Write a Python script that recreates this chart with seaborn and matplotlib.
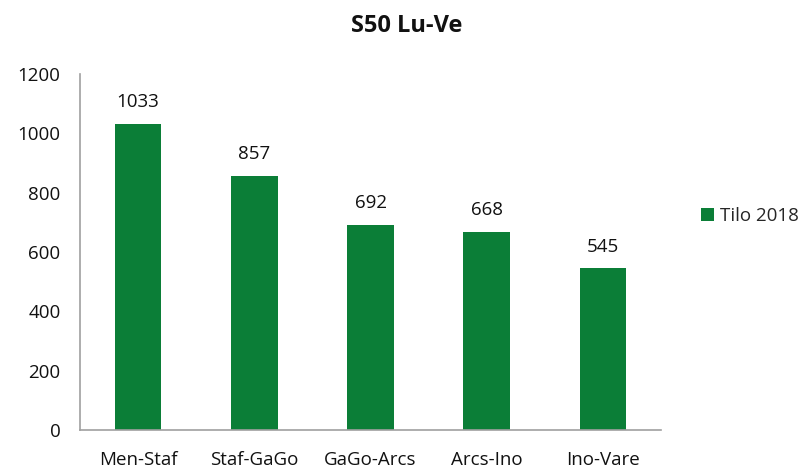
import pandas as pd
import matplotlib.pyplot as plt
import seaborn as sns

# chart data
categories = ["Men-Staf", "Staf-GaGo", "GaGo-Arcs", "Arcs-Ino", "Ino-Vare"]
values = [1033, 857, 692, 668, 545]
series_name = "Tilo 2018"
yticks = [0, 200, 400, 600, 800, 1000, 1200]

df = pd.DataFrame({"Tratta": categories, "Valore": values, "Serie": series_name})

sns.set_style("white")
plt.rcParams["font.family"] = ["Open Sans", "DejaVu Sans"]

fig = plt.figure(figsize=(8.06, 4.69), dpi=100)
ax = fig.add_axes([80 / 806, 1 - 430 / 469, 581 / 806, 356 / 469])

green = "#0b7e37"
sns.barplot(data=df, x="Tratta", y="Valore", hue="Serie", palette=[green],
            width=0.4, ax=ax, saturation=1, linewidth=0)

fs = 13.5
for cont in ax.containers:
    ax.bar_label(cont, fmt="%d", padding=9, fontsize=fs, color="#111111")

ax.set_ylim(0, 1200)
ax.set_yticks(yticks)
ax.set_xlim(-0.5, len(categories) - 0.5)
ax.set_xlabel("")
ax.set_ylabel("")
ax.tick_params(axis="both", labelsize=fs, colors="#111111")

# x ticks between categories
ax.set_xticks([i for i in range(len(categories))])
ax.set_xticklabels(categories)
ax.tick_params(axis="x", length=0, pad=15)
ax.set_xticks([i - 0.5 for i in range(len(categories) + 1)], minor=True)
ax.tick_params(axis="x", which="minor", length=6, color="#a0a0a0", width=1.2)
ax.tick_params(axis="y", length=6, color="#a0a0a0", width=1.2, pad=8)

for side in ["top", "right"]:
    ax.spines[side].set_visible(False)
for side in ["left", "bottom"]:
    ax.spines[side].set_color("#a0a0a0")
    ax.spines[side].set_linewidth(1.2)

leg = ax.legend(loc="center left", bbox_to_anchor=(1.04, 0.6), frameon=False,
                fontsize=fs, handlelength=0.7, handleheight=0.7, handletextpad=0.3)

fig.text(0.505, 0.945, "S50 Lu-Ve", ha="center", va="center",
         fontsize=17, fontweight="bold", color="#111111")

plt.savefig("out.png", dpi=100)
